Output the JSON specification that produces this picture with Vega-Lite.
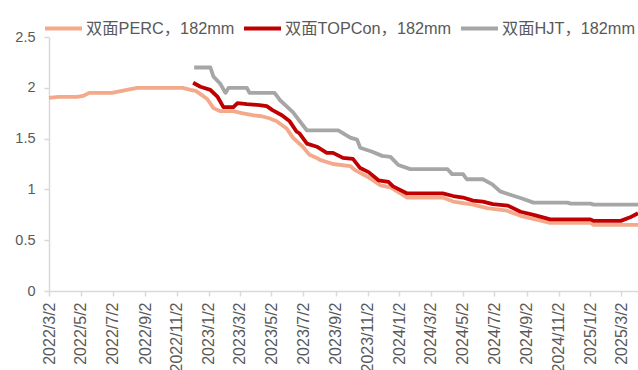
{
  "$schema": "https://vega.github.io/schema/vega-lite/v6.json",
  "width": 589,
  "height": 254,
  "autosize": {"type": "none"},
  "padding": {"left": 49, "top": 37, "right": 0, "bottom": 79},
  "background": "white",
  "config": {
    "view": {"stroke": null},
    "font": "Liberation Sans"
  },
  "datasets": {
    "d": [
      {"date": "2022-03-02", "series": "双面PERC，182mm", "value": 1.90},
      {"date": "2022-03-20", "series": "双面PERC，182mm", "value": 1.91},
      {"date": "2022-04-25", "series": "双面PERC，182mm", "value": 1.91},
      {"date": "2022-05-06", "series": "双面PERC，182mm", "value": 1.92},
      {"date": "2022-05-18", "series": "双面PERC，182mm", "value": 1.95},
      {"date": "2022-07-01", "series": "双面PERC，182mm", "value": 1.95},
      {"date": "2022-07-10", "series": "双面PERC，182mm", "value": 1.96},
      {"date": "2022-07-20", "series": "双面PERC，182mm", "value": 1.97},
      {"date": "2022-07-29", "series": "双面PERC，182mm", "value": 1.98},
      {"date": "2022-08-18", "series": "双面PERC，182mm", "value": 2.00},
      {"date": "2022-11-13", "series": "双面PERC，182mm", "value": 2.00},
      {"date": "2022-11-28", "series": "双面PERC，182mm", "value": 1.98},
      {"date": "2022-12-08", "series": "双面PERC，182mm", "value": 1.97},
      {"date": "2022-12-22", "series": "双面PERC，182mm", "value": 1.92},
      {"date": "2022-12-30", "series": "双面PERC，182mm", "value": 1.89},
      {"date": "2023-01-11", "series": "双面PERC，182mm", "value": 1.80},
      {"date": "2023-01-24", "series": "双面PERC，182mm", "value": 1.77},
      {"date": "2023-02-18", "series": "双面PERC，182mm", "value": 1.77},
      {"date": "2023-03-06", "series": "双面PERC，182mm", "value": 1.75},
      {"date": "2023-03-27", "series": "双面PERC，182mm", "value": 1.73},
      {"date": "2023-04-13", "series": "双面PERC，182mm", "value": 1.72},
      {"date": "2023-04-28", "series": "双面PERC，182mm", "value": 1.70},
      {"date": "2023-05-12", "series": "双面PERC，182mm", "value": 1.67},
      {"date": "2023-05-31", "series": "双面PERC，182mm", "value": 1.60},
      {"date": "2023-06-12", "series": "双面PERC，182mm", "value": 1.51},
      {"date": "2023-07-01", "series": "双面PERC，182mm", "value": 1.42},
      {"date": "2023-07-14", "series": "双面PERC，182mm", "value": 1.34},
      {"date": "2023-07-28", "series": "双面PERC，182mm", "value": 1.31},
      {"date": "2023-08-03", "series": "双面PERC，182mm", "value": 1.29},
      {"date": "2023-08-28", "series": "双面PERC，182mm", "value": 1.25},
      {"date": "2023-09-30", "series": "双面PERC，182mm", "value": 1.23},
      {"date": "2023-10-09", "series": "双面PERC，182mm", "value": 1.19},
      {"date": "2023-11-02", "series": "双面PERC，182mm", "value": 1.125},
      {"date": "2023-11-27", "series": "双面PERC，182mm", "value": 1.04},
      {"date": "2023-12-16", "series": "双面PERC，182mm", "value": 1.02},
      {"date": "2024-01-04", "series": "双面PERC，182mm", "value": 0.96},
      {"date": "2024-01-17", "series": "双面PERC，182mm", "value": 0.92},
      {"date": "2024-03-25", "series": "双面PERC，182mm", "value": 0.92},
      {"date": "2024-04-14", "series": "双面PERC，182mm", "value": 0.88},
      {"date": "2024-05-22", "series": "双面PERC，182mm", "value": 0.85},
      {"date": "2024-06-18", "series": "双面PERC，182mm", "value": 0.815},
      {"date": "2024-07-26", "series": "双面PERC，182mm", "value": 0.79},
      {"date": "2024-08-21", "series": "双面PERC，182mm", "value": 0.74},
      {"date": "2024-10-17", "series": "双面PERC，182mm", "value": 0.67},
      {"date": "2025-01-02", "series": "双面PERC，182mm", "value": 0.67},
      {"date": "2025-01-08", "series": "双面PERC，182mm", "value": 0.65},
      {"date": "2025-04-03", "series": "双面PERC，182mm", "value": 0.65},

      {"date": "2022-12-03", "series": "双面TOPCon，182mm", "value": 2.05},
      {"date": "2022-12-17", "series": "双面TOPCon，182mm", "value": 2.01},
      {"date": "2023-01-05", "series": "双面TOPCon，182mm", "value": 1.98},
      {"date": "2023-01-19", "series": "双面TOPCon，182mm", "value": 1.91},
      {"date": "2023-01-30", "series": "双面TOPCon，182mm", "value": 1.81},
      {"date": "2023-02-18", "series": "双面TOPCon，182mm", "value": 1.81},
      {"date": "2023-02-26", "series": "双面TOPCon，182mm", "value": 1.85},
      {"date": "2023-03-16", "series": "双面TOPCon，182mm", "value": 1.84},
      {"date": "2023-04-09", "series": "双面TOPCon，182mm", "value": 1.83},
      {"date": "2023-04-23", "series": "双面TOPCon，182mm", "value": 1.82},
      {"date": "2023-05-04", "series": "双面TOPCon，182mm", "value": 1.78},
      {"date": "2023-05-22", "series": "双面TOPCon，182mm", "value": 1.73},
      {"date": "2023-06-06", "series": "双面TOPCon，182mm", "value": 1.67},
      {"date": "2023-06-19", "series": "双面TOPCon，182mm", "value": 1.57},
      {"date": "2023-06-25", "series": "双面TOPCon，182mm", "value": 1.55},
      {"date": "2023-07-09", "series": "双面TOPCon，182mm", "value": 1.45},
      {"date": "2023-07-28", "series": "双面TOPCon，182mm", "value": 1.42},
      {"date": "2023-08-16", "series": "双面TOPCon，182mm", "value": 1.36},
      {"date": "2023-08-28", "series": "双面TOPCon，182mm", "value": 1.36},
      {"date": "2023-09-16", "series": "双面TOPCon，182mm", "value": 1.31},
      {"date": "2023-10-05", "series": "双面TOPCon，182mm", "value": 1.30},
      {"date": "2023-10-19", "series": "双面TOPCon，182mm", "value": 1.21},
      {"date": "2023-11-04", "series": "双面TOPCon，182mm", "value": 1.17},
      {"date": "2023-11-23", "series": "双面TOPCon，182mm", "value": 1.09},
      {"date": "2023-12-12", "series": "双面TOPCon，182mm", "value": 1.075},
      {"date": "2023-12-21", "series": "双面TOPCon，182mm", "value": 1.03},
      {"date": "2024-01-17", "series": "双面TOPCon，182mm", "value": 0.96},
      {"date": "2024-03-25", "series": "双面TOPCon，182mm", "value": 0.96},
      {"date": "2024-04-14", "series": "双面TOPCon，182mm", "value": 0.935},
      {"date": "2024-05-03", "series": "双面TOPCon，182mm", "value": 0.92},
      {"date": "2024-05-22", "series": "双面TOPCon，182mm", "value": 0.89},
      {"date": "2024-06-10", "series": "双面TOPCon，182mm", "value": 0.88},
      {"date": "2024-06-29", "series": "双面TOPCon，182mm", "value": 0.855},
      {"date": "2024-07-28", "series": "双面TOPCon，182mm", "value": 0.84},
      {"date": "2024-08-21", "series": "双面TOPCon，182mm", "value": 0.78},
      {"date": "2024-09-15", "series": "双面TOPCon，182mm", "value": 0.75},
      {"date": "2024-10-17", "series": "双面TOPCon，182mm", "value": 0.705},
      {"date": "2025-01-02", "series": "双面TOPCon，182mm", "value": 0.705},
      {"date": "2025-01-08", "series": "双面TOPCon，182mm", "value": 0.69},
      {"date": "2025-03-01", "series": "双面TOPCon，182mm", "value": 0.69},
      {"date": "2025-03-19", "series": "双面TOPCon，182mm", "value": 0.725},
      {"date": "2025-04-03", "series": "双面TOPCon，182mm", "value": 0.765},

      {"date": "2022-12-05", "series": "双面HJT，182mm", "value": 2.20},
      {"date": "2023-01-05", "series": "双面HJT，182mm", "value": 2.20},
      {"date": "2023-01-11", "series": "双面HJT，182mm", "value": 2.11},
      {"date": "2023-01-24", "series": "双面HJT，182mm", "value": 2.04},
      {"date": "2023-02-03", "series": "双面HJT，182mm", "value": 1.95},
      {"date": "2023-02-09", "series": "双面HJT，182mm", "value": 2.00},
      {"date": "2023-03-16", "series": "双面HJT，182mm", "value": 2.00},
      {"date": "2023-03-21", "series": "双面HJT，182mm", "value": 1.95},
      {"date": "2023-05-08", "series": "双面HJT，182mm", "value": 1.95},
      {"date": "2023-05-18", "series": "双面HJT，182mm", "value": 1.88},
      {"date": "2023-06-12", "series": "双面HJT，182mm", "value": 1.76},
      {"date": "2023-07-09", "series": "双面HJT，182mm", "value": 1.58},
      {"date": "2023-09-07", "series": "双面HJT，182mm", "value": 1.58},
      {"date": "2023-09-30", "series": "双面HJT，182mm", "value": 1.51},
      {"date": "2023-10-13", "series": "双面HJT，182mm", "value": 1.49},
      {"date": "2023-10-19", "series": "双面HJT，182mm", "value": 1.41},
      {"date": "2023-11-11", "series": "双面HJT，182mm", "value": 1.37},
      {"date": "2023-11-30", "series": "双面HJT，182mm", "value": 1.33},
      {"date": "2023-12-16", "series": "双面HJT，182mm", "value": 1.32},
      {"date": "2023-12-31", "series": "双面HJT，182mm", "value": 1.24},
      {"date": "2024-01-23", "series": "双面HJT，182mm", "value": 1.20},
      {"date": "2024-04-03", "series": "双面HJT，182mm", "value": 1.20},
      {"date": "2024-04-12", "series": "双面HJT，182mm", "value": 1.15},
      {"date": "2024-05-03", "series": "双面HJT，182mm", "value": 1.15},
      {"date": "2024-05-10", "series": "双面HJT，182mm", "value": 1.10},
      {"date": "2024-06-10", "series": "双面HJT，182mm", "value": 1.10},
      {"date": "2024-06-28", "series": "双面HJT，182mm", "value": 1.05},
      {"date": "2024-07-13", "series": "双面HJT，182mm", "value": 0.98},
      {"date": "2024-07-28", "series": "双面HJT，182mm", "value": 0.955},
      {"date": "2024-08-21", "series": "双面HJT，182mm", "value": 0.915},
      {"date": "2024-09-15", "series": "双面HJT，182mm", "value": 0.87},
      {"date": "2024-11-19", "series": "双面HJT，182mm", "value": 0.87},
      {"date": "2024-11-25", "series": "双面HJT，182mm", "value": 0.86},
      {"date": "2025-01-02", "series": "双面HJT，182mm", "value": 0.86},
      {"date": "2025-01-08", "series": "双面HJT，182mm", "value": 0.85},
      {"date": "2025-04-03", "series": "双面HJT，182mm", "value": 0.85}
    ]
  },
  "data": {"name": "d"},
  "mark": {"type": "line", "strokeWidth": 3.8, "strokeJoin": "round", "strokeCap": "butt"},
  "encoding": {
    "x": {
      "field": "date",
      "type": "temporal",
      "scale": {"type": "utc", "domain": [{"year": 2022, "month": 3, "date": 2, "utc": true}, {"year": 2025, "month": 4, "date": 3, "utc": true}]},
      "axis": {
        "title": null,
        "grid": false,
        "values": [
          {"year": 2022, "month": 3, "date": 2, "utc": true},
          {"year": 2022, "month": 5, "date": 2, "utc": true},
          {"year": 2022, "month": 7, "date": 2, "utc": true},
          {"year": 2022, "month": 9, "date": 2, "utc": true},
          {"year": 2022, "month": 11, "date": 2, "utc": true},
          {"year": 2023, "month": 1, "date": 2, "utc": true},
          {"year": 2023, "month": 3, "date": 2, "utc": true},
          {"year": 2023, "month": 5, "date": 2, "utc": true},
          {"year": 2023, "month": 7, "date": 2, "utc": true},
          {"year": 2023, "month": 9, "date": 2, "utc": true},
          {"year": 2023, "month": 11, "date": 2, "utc": true},
          {"year": 2024, "month": 1, "date": 2, "utc": true},
          {"year": 2024, "month": 3, "date": 2, "utc": true},
          {"year": 2024, "month": 5, "date": 2, "utc": true},
          {"year": 2024, "month": 7, "date": 2, "utc": true},
          {"year": 2024, "month": 9, "date": 2, "utc": true},
          {"year": 2024, "month": 11, "date": 2, "utc": true},
          {"year": 2025, "month": 1, "date": 2, "utc": true},
          {"year": 2025, "month": 3, "date": 2, "utc": true}
        ],
        "labelExpr": "utcFormat(datum.value, '%Y/%-m/%-d')",
        "labelAngle": -90,
        "labelAlign": "right",
        "labelBaseline": "middle",
        "labelFontSize": 16,
        "labelColor": "#595959",
        "labelPadding": 6,
        "labelOverlap": false,
        "labelFlush": false,
        "domainColor": "#D9D9D9",
        "domainWidth": 1.5,
        "tickColor": "#D9D9D9",
        "tickSize": 5,
        "tickWidth": 1.5
      }
    },
    "y": {
      "field": "value",
      "type": "quantitative",
      "scale": {"domain": [0, 2.5], "nice": false},
      "axis": {
        "title": null,
        "grid": false,
        "values": [0, 0.5, 1, 1.5, 2, 2.5],
        "format": "~g",
        "labelFontSize": 14.5,
        "labelColor": "#595959",
        "labelPadding": 9,
        "domainColor": "#D9D9D9",
        "domainWidth": 1.5,
        "tickColor": "#D9D9D9",
        "tickSize": 5,
        "tickWidth": 1.5
      }
    },
    "color": {
      "field": "series",
      "type": "nominal",
      "scale": {
        "domain": ["双面PERC，182mm", "双面TOPCon，182mm", "双面HJT，182mm"],
        "range": ["#F4A98B", "#C00000", "#A6A6A6"]
      },
      "legend": {
        "title": null,
        "orient": "none",
        "direction": "horizontal",
        "legendX": -6,
        "legendY": -29,
        "symbolType": "stroke",
        "symbolSize": 1369,
        "symbolStrokeWidth": 4,
        "labelFontSize": 16.3,
        "labelColor": "#595959",
        "labelFont": "Liberation Sans, Noto Sans CJK SC",
        "labelOffset": 2,
        "columnPadding": 1,
        "labelLimit": 300
      }
    }
  }
}
